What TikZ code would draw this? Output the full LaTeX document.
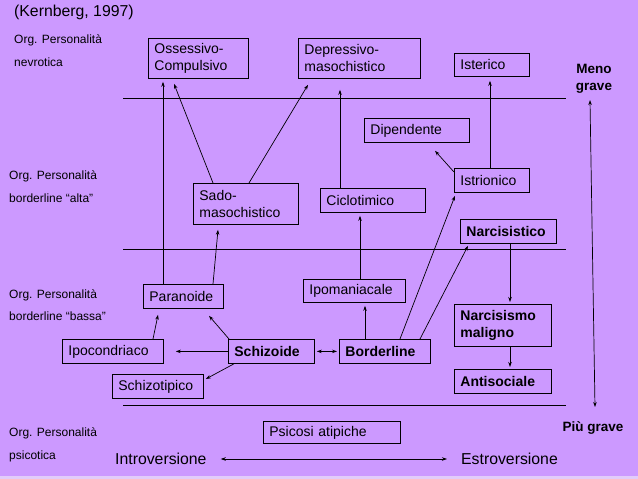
\documentclass[tikz,border=0pt]{standalone}
\usepackage{fontspec}
\setmainfont{Liberation Sans}
\usetikzlibrary{arrows.meta}
\definecolor{bg}{RGB}{204,153,255}
\definecolor{bgstrip}{RGB}{226,204,250}
\begin{document}
\begin{tikzpicture}[x=1pt,y=-1pt,
  bx/.style={draw, line width=0.8pt, inner xsep=6pt, inner ysep=0pt, align=left, anchor=north west, font=\fontsize{14}{17}\selectfont},
  bb/.style={bx, font=\fontsize{14}{17}\selectfont\bfseries},
  lbl/.style={anchor=west, inner sep=0pt, font=\fontsize{12}{14}\selectfont},
  big/.style={anchor=west, inner sep=0pt, font=\fontsize{15.8}{18}\selectfont},
  grv/.style={inner sep=0pt, align=center, font=\fontsize{13.5}{17}\selectfont\bfseries},
  arr/.style={line width=0.7pt, -{Stealth[length=5pt,width=3.5pt]}},
  darr/.style={line width=0.7pt, {Stealth[length=5pt,width=3.5pt]}-{Stealth[length=5pt,width=3.5pt]}},
  ln/.style={line width=0.8pt}]
\fill[bg] (0,0) rectangle (638,479);
\fill[bgstrip] (0,476) rectangle (638,479);
\useasboundingbox (0,0) rectangle (638,479);

% labels
\node[big] (kern) at (14,12) {(Kernberg, 1997)};
\node[lbl] (l1a) at (14,40) {Org. Personalità};
\node[lbl] (l1b) at (14,62) {nevrotica};
\node[lbl] (l2a) at (9,176) {Org. Personalità};
\node[lbl] (l2b) at (9,198) {borderline “alta”};
\node[lbl] (l3a) at (9,295) {Org. Personalità};
\node[lbl] (l3b) at (9,316) {borderline “bassa”};
\node[lbl] (l4a) at (9,433) {Org. Personalità};
\node[lbl] (l4b) at (9,456) {psicotica};
\node[grv] (meno) at (594,79) {Meno\\grave};
\node[grv] (piu) at (593,428) {Più grave};

% separating lines
\coordinate (h1a) at (123,98);  \coordinate (h1b) at (566,98);
\coordinate (h2a) at (123,249); \coordinate (h2b) at (566,249);
\coordinate (h3a) at (123,405); \coordinate (h3b) at (566,405);
\draw[ln] (h1a) -- (h1b);
\draw[ln] (h2a) -- (h2b);
\draw[ln] (h3a) -- (h3b);

% boxes
\node[bx, text width=88pt, minimum height=40pt] (oc) at (148,38) {Ossessivo-\\Compulsivo};
\node[bx, text width=110pt, minimum height=40pt] (dm) at (298,38) {Depressivo-\\masochistico};
\node[bx, text width=63pt, minimum height=23pt] (is) at (454,53) {Isterico};
\node[bx, text width=93pt, minimum height=24pt] (di) at (364,118) {Dipendente};
\node[bx, text width=63pt, minimum height=24pt] (ist) at (454,168) {Istrionico};
\node[bx, text width=93pt, minimum height=24pt] (ci) at (320,188) {Ciclotimico};
\node[bx, text width=93pt, minimum height=41pt] (sm) at (193,183) {Sado-\\masochistico};
\node[bb, text width=84pt, minimum height=24pt] (na) at (460,219) {Narcisistico};
\node[bx, text width=68pt, minimum height=24pt] (pa) at (143,284) {Paranoide};
\node[bx, text width=90pt, minimum height=23pt] (ip) at (303,279) {Ipomaniacale};
\node[bx, text width=89pt, minimum height=24pt] (ic) at (62,339) {Ipocondriaco};
\node[bb, text width=74pt, minimum height=24pt] (sc) at (228,339) {Schizoide};
\node[bb, text width=79pt, minimum height=24pt] (bo) at (339,339) {Borderline};
\node[bx, text width=79pt, minimum height=24pt] (st) at (112,374) {Schizotipico};
\node[bb, text width=85pt, minimum height=42pt] (nm) at (454,304) {Narcisismo\\maligno};
\node[bb, text width=85pt, minimum height=24pt] (an) at (454,369) {Antisociale};
\node[bx, text width=125pt, minimum height=22pt] (ps) at (263,421) {Psicosi atipiche};

% arrows
\draw[arr] ([xshift=20pt]pa.north west) -- ([xshift=15pt,yshift=-3pt]oc.south west);
\draw[arr] ([xshift=20pt]sm.north west) -- ([xshift=26pt,yshift=-5pt]oc.south west);
\draw[arr] ([xshift=56pt]sm.north west) -- ([xshift=10pt,yshift=-6pt]dm.south west);
\draw[arr] ([xshift=70pt]pa.north west) -- ([xshift=25pt,yshift=-5pt]sm.south west);
\draw[arr] ([xshift=20pt]ci.north west) -- ([xshift=42pt,yshift=-11pt]dm.south west);
\draw[arr] ([xshift=36pt]ist.north west) -- ([xshift=36pt,yshift=-4pt]is.south west);
\draw[arr] ([yshift=-4pt]ist.north west) -- ([xshift=71pt,yshift=-8pt]di.south west);
\draw[arr] ([xshift=61pt]bo.north west) -- ([xshift=1pt,yshift=-3pt]ist.south west);
\draw[arr] ([xshift=81pt]bo.north west) -- ([xshift=8pt,yshift=-2pt]na.south west);
\draw[arr] ([xshift=26pt]bo.north west) -- ([xshift=62pt,yshift=-3pt]ip.south west);
\draw[arr] ([xshift=57pt]ip.north west) -- ([xshift=40pt,yshift=-3pt]ci.south west);
\draw[arr] ([xshift=50pt]na.south west) -- ([xshift=56pt,yshift=2pt]nm.north west);
\draw[arr] ([xshift=56pt]nm.south west) -- ([xshift=56pt,yshift=2pt]an.north west);
\draw[darr] ([xshift=2pt]sc.east) -- ([xshift=-2pt]bo.west);
\draw[arr] (sc.west) -- ([xshift=12pt]ic.east);
\draw[arr] ([xshift=1pt]sc.north west) -- ([xshift=66pt,yshift=-7pt]pa.south west);
\draw[arr] ([xshift=91pt]ic.north west) -- ([xshift=15pt,yshift=-6pt]pa.south west);
\draw[arr] ([xshift=6pt]sc.south west) -- ([xshift=2pt,yshift=-5pt]st.north east);

% axes
\node[big] (intro) at (115,459) {Introversione};
\node[big] (estro) at (461,459) {Estroversione};
\draw[darr] ([xshift=14pt]intro.east) -- ([xshift=-14pt]estro.west);
\coordinate (gtop) at (590,100);
\coordinate (gbot) at (595,407);
\draw[darr] (gtop) -- (gbot);
\end{tikzpicture}
\end{document}
